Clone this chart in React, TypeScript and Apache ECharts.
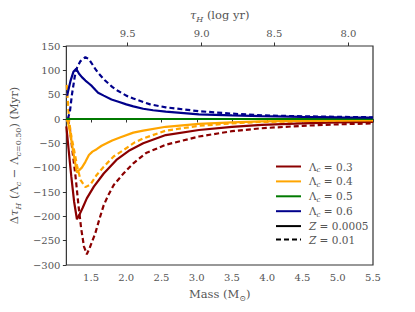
import React, { useEffect, useRef } from 'react';
import * as echarts from 'echarts';

// Bottom axis (mass) ticks
const massTicks = [1.5, 2.0, 2.5, 3.0, 3.5, 4.0, 4.5, 5.0, 5.5];
// Top axis: hydrogen-burning lifetime (log yr) at given masses
const topTickMasses = [2.02, 3.07, 4.1, 5.15];
const topTickLabels = ['9.5', '9.0', '8.5', '8.0'];

// Λc = 0.3
const massRedSolid = [1.15, 1.18, 1.22, 1.26, 1.3, 1.34, 1.38, 1.44, 1.54, 1.68, 1.86, 2.05, 2.24, 2.56, 3.03, 3.5, 3.92, 4.5, 5.0, 5.5];
const valRedSolid = [-15, -60, -118, -170, -206, -195, -183, -163, -139, -112, -84, -64, -50, -33, -22.6, -16, -12, -9, -7, -6];
const massRedDashed = [1.17, 1.2, 1.24, 1.28, 1.32, 1.36, 1.4, 1.44, 1.48, 1.56, 1.62, 1.68, 1.75, 1.82, 1.96, 2.1, 2.28, 2.56, 3.03, 3.5, 3.92, 4.5, 5.0, 5.5];
const valRedDashed = [0, -20, -70, -118, -175, -225, -262, -278, -265, -235, -205, -177, -155, -136, -112, -91, -70, -53, -36, -25, -19, -14, -11, -9];

// Λc = 0.4
const massOrangeSolid = [1.15, 1.17, 1.2, 1.25, 1.3, 1.34, 1.37, 1.42, 1.47, 1.52, 1.58, 1.65, 1.72, 1.8, 1.91, 2.1, 2.24, 2.56, 3.03, 3.5, 3.92, 4.5, 5.0, 5.5];
const valOrangeSolid = [-2, -5, -25, -70, -110, -104, -100, -88, -74, -67, -62, -55, -50, -44, -38, -28, -24, -16, -10, -7, -5, -4, -3.5, -3];
const massOrangeDashed = [1.155, 1.17, 1.19, 1.22, 1.26, 1.3, 1.35, 1.42, 1.49, 1.58, 1.68, 1.82, 1.96, 2.12, 2.24, 2.56, 3.03, 3.5, 3.92, 4.5, 5.0, 5.5];
const valOrangeDashed = [70, 40, -5, -35, -64, -95, -125, -140, -135, -115, -98, -77, -64, -48, -40, -24, -14, -9, -6, -5, -4.5, -4];

// Λc = 0.5 (reference)
const massGreen = [1.15, 5.5];
const valGreen = [0, 0];

// Λc = 0.6
const massBlueSolid = [1.16, 1.21, 1.25, 1.29, 1.33, 1.37, 1.42, 1.47, 1.51, 1.56, 1.6, 1.68, 1.79, 1.9, 2.0, 2.1, 2.24, 2.38, 2.56, 3.03, 3.5, 3.92, 4.5, 5.0, 5.5];
const valBlueSolid = [48, 79, 97, 103, 93, 86, 79, 73, 68, 60, 54, 48, 40, 35, 30, 26, 21, 18, 15, 9.6, 7.5, 6, 4.5, 3.5, 3];
const massBlueDashed = [1.17, 1.2, 1.23, 1.27, 1.3, 1.35, 1.42, 1.47, 1.52, 1.56, 1.6, 1.7, 1.8, 1.88, 2.0, 2.1, 2.34, 2.56, 3.03, 3.5, 3.92, 4.5, 5.0, 5.5];
const valBlueDashed = [0, 15, 51, 88, 105, 119, 127, 123, 112, 103, 95, 79, 66, 58, 48, 42, 30, 24, 16, 11, 7.5, 5.5, 4.5, 3.5];

const lambdaLabels = ['0.3', '0.4', '0.5', '0.6'];
const zLabels = ['0.0005', '0.01'];

const FONT = 'DejaVu Serif';
const TXT = '#555';

const pts = (m: number[], v: number[]) => m.map((x, i) => [x, v[i]]);

export default function App() {
  const ref = useRef<HTMLDivElement>(null);
  useEffect(() => {
    if (!ref.current) return;
    const chart = echarts.init(ref.current, undefined, { renderer: 'svg' });
    const groups = [
      { lam: lambdaLabels[0], color: '#8b0000', solid: pts(massRedSolid, valRedSolid), dashed: pts(massRedDashed, valRedDashed) },
      { lam: lambdaLabels[1], color: '#ffa500', solid: pts(massOrangeSolid, valOrangeSolid), dashed: pts(massOrangeDashed, valOrangeDashed) },
      { lam: lambdaLabels[2], color: '#007a00', solid: pts(massGreen, valGreen), dashed: pts(massGreen, valGreen) },
      { lam: lambdaLabels[3], color: '#00008b', solid: pts(massBlueSolid, valBlueSolid), dashed: pts(massBlueDashed, valBlueDashed) },
    ];
    const DASH = [5, 3];
    const series: any[] = [];
    groups.forEach((g) => {
      series.push({
        name: 'L' + g.lam + '_d', type: 'line', data: g.dashed, showSymbol: false, symbol: 'none',
        lineStyle: { color: g.color, width: 2.2, type: DASH }, itemStyle: { color: g.color }, silent: true,
      });
    });
    groups.forEach((g) => {
      series.push({
        name: 'L' + g.lam, type: 'line', data: g.solid, showSymbol: false, symbol: 'none',
        lineStyle: { color: g.color, width: 2.2, type: 'solid' }, itemStyle: { color: g.color }, silent: true,
      });
    });
    series.push({ name: 'Z' + zLabels[0], type: 'line', data: [], symbol: 'none', lineStyle: { color: '#000', width: 2.2, type: 'solid' }, itemStyle: { color: '#000' } });
    series.push({ name: 'Z' + zLabels[1], type: 'line', data: [], symbol: 'none', lineStyle: { color: '#000', width: 2.2, type: DASH }, itemStyle: { color: '#000' } });

    const rich = {
      t: { fontFamily: FONT, fontSize: 10.5, color: TXT, lineHeight: 14 },
      i: { fontFamily: FONT, fontSize: 10.5, color: TXT, fontStyle: 'italic', lineHeight: 14 },
      s: { fontFamily: FONT, fontSize: 7, color: TXT, fontStyle: 'italic', verticalAlign: 'bottom', lineHeight: 8 },
    };
    const titleRich = {
      t: { fontFamily: FONT, fontSize: 11.5, color: TXT, lineHeight: 16 },
      i: { fontFamily: FONT, fontSize: 11.5, color: TXT, fontStyle: 'italic', lineHeight: 16 },
      s: { fontFamily: FONT, fontSize: 8, color: TXT, fontStyle: 'italic', verticalAlign: 'bottom', lineHeight: 9 },
      u: { fontFamily: FONT, fontSize: 8, color: TXT, verticalAlign: 'bottom', lineHeight: 9 },
    };
    const tickLabel = { fontFamily: FONT, fontSize: 10, color: TXT };
    const nearestTop = (v: number) => {
      let bi = 0;
      topTickMasses.forEach((m, i) => { if (Math.abs(m - v) < Math.abs(topTickMasses[bi] - v)) bi = i; });
      return topTickLabels[bi];
    };

    chart.setOption({
      animation: false,
      textStyle: { fontFamily: FONT },
      grid: { left: 62, right: 42, top: 46, bottom: 47, show: true, borderColor: '#333', borderWidth: 1.2, backgroundColor: 'transparent' },
      legend: {
        orient: 'vertical', left: 275, top: 161, padding: 0, itemWidth: 25, itemHeight: 10, itemGap: 2.4,
        selectedMode: false,
        itemStyle: { opacity: 0 },
        data: [...lambdaLabels.map((l) => 'L' + l), ...zLabels.map((z) => 'Z' + z)],
        formatter: (name: string) => {
          if (name[0] === 'L') return '{t|Λ}{s|c}{t| = ' + name.slice(1) + '}';
          return '{i|Z}{t| = ' + name.slice(1) + '}';
        },
        textStyle: { fontFamily: FONT, rich, padding: [0, 0, 0, 3] },
      },
      xAxis: [
        {
          type: 'value', position: 'bottom', min: 1.15, max: 5.5,
          axisLine: { show: false }, splitLine: { show: false },
          axisTick: { show: true, customValues: massTicks, length: 3.5, lineStyle: { color: '#333' } },
          axisLabel: { customValues: massTicks, formatter: (v: number) => v.toFixed(1), margin: 7, ...tickLabel },
          name: '{t|Mass (M}{u|⊙}{t|)}', nameLocation: 'middle', nameGap: 21,
          nameTextStyle: { fontFamily: FONT, rich: titleRich },
        },
        {
          type: 'value', position: 'top', min: 1.15, max: 5.5,
          axisLine: { show: false }, splitLine: { show: false },
          axisTick: { show: true, customValues: topTickMasses, length: 3.5, lineStyle: { color: '#333' } },
          axisLabel: { customValues: topTickMasses, formatter: (v: number) => nearestTop(v), margin: 8, ...tickLabel },
          name: '{i|τ}{s|H}{t| (log yr)}', nameLocation: 'middle', nameGap: 22,
          nameTextStyle: { fontFamily: FONT, rich: titleRich },
        },
      ],
      yAxis: {
        type: 'value', min: -300, max: 150, interval: 50,
        axisLine: { show: false }, splitLine: { show: false },
        axisTick: { show: true, length: 3.5, lineStyle: { color: '#333' } },
        axisLabel: { formatter: (v: number) => (v < 0 ? '\u2212' + Math.abs(v) : String(v)), margin: 6, ...tickLabel },
        name: '{t|Δ}{i|τ}{s|H}{t| (Λ}{s|c}{t| − Λ}{s|c}{u|=0.50}{t|) (Myr)}', nameLocation: 'middle', nameGap: 40, nameRotate: 90,
        nameTextStyle: { fontFamily: FONT, rich: titleRich },
      },
      series,
    });
    return () => chart.dispose();
  }, []);
  return <div ref={ref} style={{ width: 415, height: 312, position: 'absolute', left: 0, top: 0 }} />;
}
